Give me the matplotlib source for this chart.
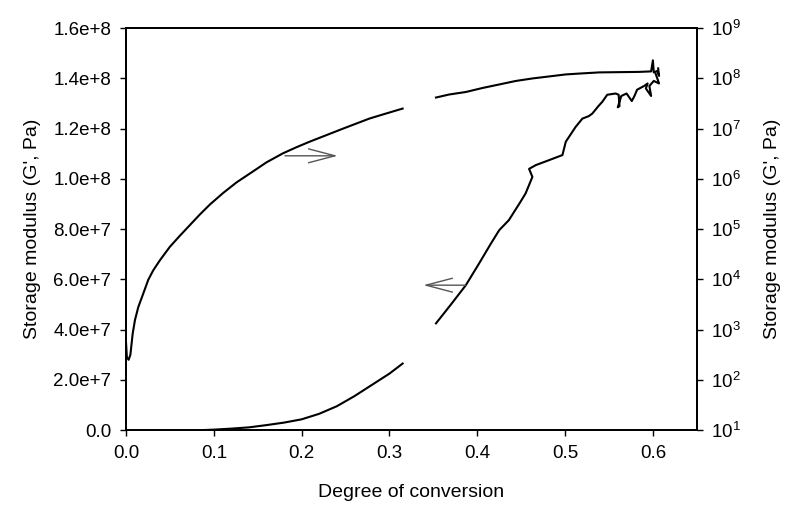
import numpy as np
import matplotlib
matplotlib.use("Agg")
import matplotlib.pyplot as plt
from matplotlib.ticker import LogLocator, NullLocator

plt.rcParams['font.family'] = ['Liberation Sans', 'DejaVu Sans']
plt.rcParams['mathtext.fontset'] = 'custom'
plt.rcParams['mathtext.rm'] = 'Liberation Sans'

# upper curve (read against right, log axis); NaN marks the gap in the trace
upper_x = [0.0, 0.001, 0.003, 0.005, 0.0076, 0.0102, 0.014, 0.0197, 0.0253, 0.031,
           0.0386, 0.05, 0.0614, 0.0727, 0.084, 0.0955, 0.1106, 0.1258, 0.1447, 0.160,
           0.1788, 0.194, 0.209, 0.228, 0.247, 0.262, 0.277, 0.292, 0.315, np.nan,
           0.353, 0.368, 0.387, 0.406, 0.425, 0.444, 0.463, 0.482, 0.501, 0.519,
           0.539, 0.561, 0.584, 0.598, 0.600, 0.601, 0.605, 0.607, 0.606]
upper_log = [2.75, 2.45, 2.40, 2.50, 2.92, 3.19, 3.45, 3.72, 3.99, 4.18,
             4.38, 4.65, 4.87, 5.08, 5.29, 5.49, 5.72, 5.93, 6.15, 6.33,
             6.51, 6.63, 6.74, 6.87, 7.00, 7.10, 7.20, 7.28, 7.40, np.nan,
             7.62, 7.68, 7.73, 7.81, 7.88, 7.95, 8.00, 8.04, 8.08, 8.10,
             8.12, 8.125, 8.13, 8.14, 8.36, 8.12, 8.15, 8.05, 8.20]
upper_g = [10 ** v for v in upper_log]

# lower curve (read against left, linear axis)
lower_x = [0.086, 0.10, 0.12, 0.14, 0.16, 0.18, 0.20, 0.22, 0.24, 0.26, 0.28, 0.30, 0.315,
           np.nan,
           0.353, 0.370, 0.387, 0.402, 0.4156, 0.425, 0.436, 0.448, 0.455, 0.4628, 0.459,
           0.4667, 0.482, 0.497, 0.5008, 0.512, 0.5197, 0.527, 0.531, 0.538, 0.5424, 0.548,
           0.5576, 0.561, 0.562, 0.560, 0.564, 0.57, 0.576, 0.579, 0.582, 0.590, 0.594,
           0.592, 0.598, 0.596, 0.601, 0.607, 0.603]
lower_g = [0.0, 2e5, 6e5, 1.1e6, 2.0e6, 3.0e6, 4.3e6, 6.5e6, 9.5e6, 1.35e7, 1.8e7, 2.25e7, 2.65e7,
           np.nan,
           4.25e7, 5.0e7, 5.77e7, 6.63e7, 7.43e7, 7.96e7, 8.36e7, 9.02e7, 9.42e7, 1.008e8, 1.04e8,
           1.055e8, 1.075e8, 1.095e8, 1.148e8, 1.207e8, 1.24e8, 1.25e8, 1.26e8, 1.29e8, 1.307e8, 1.335e8,
           1.34e8, 1.335e8, 1.29e8, 1.285e8, 1.33e8, 1.34e8, 1.31e8, 1.33e8, 1.355e8, 1.37e8, 1.38e8,
           1.36e8, 1.33e8, 1.37e8, 1.39e8, 1.38e8, 1.42e8]

x_ticks = [0.0, 0.1, 0.2, 0.3, 0.4, 0.5, 0.6]
x_labels = ['0.0', '0.1', '0.2', '0.3', '0.4', '0.5', '0.6']
left_ticks = [0, 2e7, 4e7, 6e7, 8e7, 1e8, 1.2e8, 1.4e8, 1.6e8]
left_labels = ['0.0', '2.0e+7', '4.0e+7', '6.0e+7', '8.0e+7', '1.0e+8', '1.2e+8', '1.4e+8', '1.6e+8']

# arrows pointing to the axis each curve belongs to: (tail x, head x, y on left axis)
arrow_right = (0.181, 0.241, 1.092e8)
arrow_left = (0.387, 0.3386, 5.77e7)

fig = plt.figure(figsize=(8.0, 5.22), dpi=100)
ax = fig.add_axes([0.1575, 0.176, 0.7135, 0.770])
ax2 = ax.twinx()

ax.plot(lower_x, lower_g, color='black', lw=1.5)
ax2.plot(upper_x, upper_g, color='black', lw=1.5)

ax.set_xlim(0, 0.65)
ax.set_ylim(0, 1.6e8)
ax2.set_yscale('log')
ax2.set_ylim(10, 1e9)
ax2.yaxis.set_major_locator(LogLocator(base=10, numticks=20))
ax2.yaxis.set_minor_locator(NullLocator())

ax.set_xticks(x_ticks)
ax.set_xticklabels(x_labels)
ax.set_yticks(left_ticks)
ax.set_yticklabels(left_labels)

for a in (ax, ax2):
    a.tick_params(direction='out', length=4.5, width=1.0, labelsize=13.5, pad=6)
    for s in a.spines.values():
        s.set_linewidth(1.3)

ax.set_xlabel('Degree of conversion', fontsize=14, labelpad=16)
ax.set_ylabel("Storage modulus (G', Pa)", fontsize=14, labelpad=9)
ax2.set_ylabel("Storage modulus (G', Pa)", fontsize=14, labelpad=16)

aprops = dict(arrowstyle='->,head_length=1.9,head_width=0.5', color='#555555',
              lw=1.0, mutation_scale=10, shrinkA=0, shrinkB=0)
for tail, head, yv in (arrow_right, arrow_left):
    ax.annotate('', xy=(head, yv), xytext=(tail, yv), arrowprops=aprops)

fig.savefig('out.png', dpi=100)
